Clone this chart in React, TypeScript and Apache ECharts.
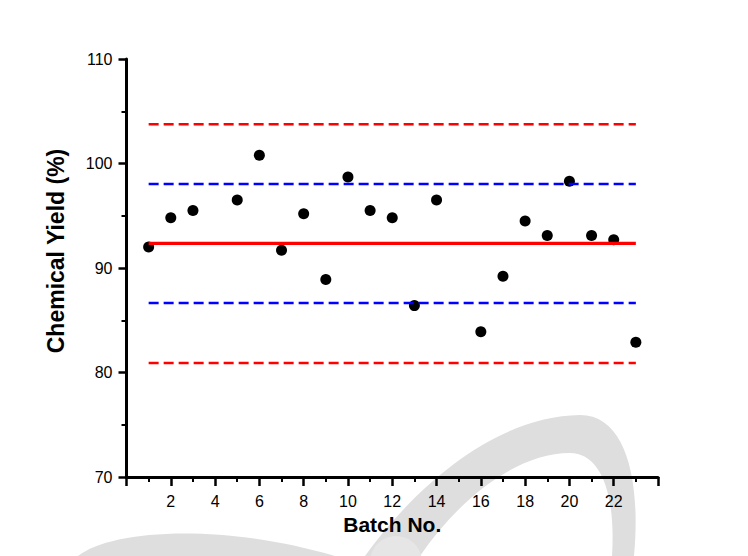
import React, { useEffect, useRef } from 'react';
import * as echarts from 'echarts';

// Batch numbers and chemical yields (%)
const batches = [1, 2, 3, 5, 6, 7, 8, 9, 10, 11, 12, 13, 14, 16, 17, 18, 19, 20, 21, 22, 23];
const yields = [92.0, 94.8, 95.5, 96.5, 100.8, 91.7, 95.2, 88.9, 98.7, 95.5, 94.8, 86.4, 96.5, 83.9, 89.2, 94.5, 93.1, 98.3, 93.1, 92.7, 82.9];

// Control lines
const lineSpan = [1, 23];
const meanLine = 92.35;
const innerLimits = [98.05, 86.65];
const outerLimits = [103.75, 80.9];

// Axes
const xRange = [0, 24];
const yRange = [70, 110];

const archPath =
  'M 365 556 C 420 480 500 416 580 415 C 626 415 641 480 634 556 L 612 556 C 616 492 600 453 570 453 C 516 453 458 500 420 556 Z';
const leftArcPath = 'M 78 556 C 110 530 220 522 335 556 Z';

echarts.graphic.registerShape('wmArch', echarts.graphic.extendPath(archPath, {}) as any);
echarts.graphic.registerShape('wmLeft', echarts.graphic.extendPath(leftArcPath, {}) as any);

export default function App() {
  const ref = useRef<HTMLDivElement>(null);

  useEffect(() => {
    if (!ref.current) return;
    const chart = echarts.init(ref.current, undefined, { renderer: 'svg' });
    const font = 'Liberation Sans, Arial, sans-serif';

    const hLine = (v: number, color: string, width: number, dashed: boolean) => ({
      type: 'line',
      data: [
        [lineSpan[0], v],
        [lineSpan[1], v],
      ],
      symbol: 'none',
      silent: true,
      lineStyle: { color, width, type: dashed ? [10, 5] : 'solid' },
    });

    chart.setOption({
      animation: false,
      backgroundColor: '#ffffff',
      graphic: [
        { type: 'wmArch', x: 0, y: 0, z: -10, silent: true, style: { fill: '#dedede' } },
        { type: 'wmLeft', x: 0, y: 0, z: -10, silent: true, style: { fill: '#dedede' } },
        { type: 'circle', z: -9, silent: true, shape: { cx: 396, cy: 562, r: 26 }, style: { fill: '#e6e6e6' } },
      ],
      grid: { left: 126.5, right: 90, top: 59, bottom: 79, containLabel: false },
      xAxis: {
        type: 'value',
        min: xRange[0],
        max: xRange[1],
        interval: 2,
        name: 'Batch No.',
        nameLocation: 'middle',
        nameGap: 33,
        nameTextStyle: { fontFamily: font, fontSize: 21, fontWeight: 'bold', color: '#000' },
        axisLine: { show: true, onZero: false, lineStyle: { color: '#000', width: 3 } },
        axisTick: { show: true, inside: false, length: 9, lineStyle: { color: '#000', width: 2.5 } },
        minorTick: { show: true, splitNumber: 2, length: 5, lineStyle: { color: '#000', width: 2 } },
        splitLine: { show: false },
        minorSplitLine: { show: false },
        axisLabel: {
          margin: 16,
          fontFamily: font,
          fontSize: 16,
          color: '#000',
          formatter: (v: number) => (v === xRange[0] || v === xRange[1] ? '' : String(v)),
        },
      },
      yAxis: {
        type: 'value',
        min: yRange[0],
        max: yRange[1],
        interval: 10,
        name: 'Chemical Yield (%)',
        nameLocation: 'middle',
        nameGap: 59,
        nameTextStyle: {
          fontFamily: font,
          fontSize: 23,
          fontWeight: 'bold',
          color: '#000',
          padding: [0, 0, 0, 34],
        },
        axisLine: { show: true, onZero: false, lineStyle: { color: '#000', width: 3 } },
        axisTick: { show: true, inside: false, length: 8, lineStyle: { color: '#000', width: 2.5 } },
        minorTick: { show: true, splitNumber: 2, length: 5, lineStyle: { color: '#000', width: 2 } },
        splitLine: { show: false },
        minorSplitLine: { show: false },
        axisLabel: { margin: 14, fontFamily: font, fontSize: 16, color: '#000' },
      },
      series: [
        {
          type: 'scatter',
          data: batches.map((b, i) => [b, yields[i]]),
          symbol: 'circle',
          symbolSize: 11,
          itemStyle: { color: '#000', opacity: 1 },
        },
        hLine(outerLimits[0], '#ff0000', 2.5, true),
        hLine(innerLimits[0], '#0000ff', 2.5, true),
        hLine(meanLine, '#ff0000', 3.2, false),
        hLine(innerLimits[1], '#0000ff', 2.5, true),
        hLine(outerLimits[1], '#ff0000', 2.5, true),
      ],
    });

    return () => chart.dispose();
  }, []);

  return (
    <div
      ref={ref}
      style={{ position: 'fixed', left: 0, top: 0, width: 748, height: 556, background: '#fff' }}
    />
  );
}
